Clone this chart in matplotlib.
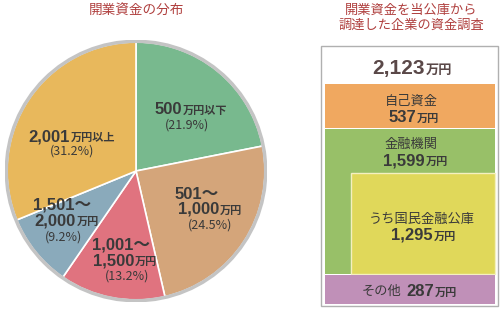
import matplotlib.pyplot as plt
from matplotlib.patches import Rectangle, Circle

plt.rcParams['font.family'] = ['Liberation Sans', 'Noto Sans CJK JP', 'DejaVu Sans']
CJK = ['Noto Sans CJK JP', 'DejaVu Sans']

# pie data
pie_titles = ['500万円以下', '501～1,000万円', '1,001～1,500万円', '1,501～2,000万円', '2,001万円以上']
pie_shares = [21.9, 24.5, 13.2, 9.2, 31.2]
pie_colors = ['#78b98e', '#d4a57a', '#e0737f', '#8aaabb', '#e8b85c']

# funding breakdown (万円)
total_fund = 2123
own_fund = 537
bank_fund = 1599
jfc_fund = 1295
other_fund = 287

txt = '#3a3a3a'
red_title = '#b0403f'

fig = plt.figure(figsize=(5, 3.1), dpi=100)

# pie axes (pixel layout: center 136,171 radius 131)
pax = fig.add_axes([(136 - 131) / 500, (310 - 171 - 131) / 310, 262 / 500, 262 / 310])
pax.pie(pie_shares, colors=pie_colors, startangle=90, counterclock=False, radius=0.985,
        wedgeprops=dict(edgecolor='white', linewidth=1.2))
pax.add_patch(Circle((0, 0), 0.99, fill=False, edgecolor='#c4c4c4', linewidth=2.5))
pax.set_xlim(-1, 1)
pax.set_ylim(-1, 1)
pax.axis('off')

# overlay axes in pixel coords
ax = fig.add_axes([0, 0, 1, 1], facecolor='none')
ax.set_xlim(0, 500)
ax.set_ylim(310, 0)
ax.axis('off')

ax.text(136, 10, '開業資金の分布', color=red_title, fontsize=9.8, ha='center', va='center', family=CJK)
ax.text(411, 10, '開業資金を当公庫から', color=red_title, fontsize=9.5, ha='center', va='center', family=CJK)
ax.text(411, 25, '調達した企業の資金調査', color=red_title, fontsize=9.5, ha='center', va='center', family=CJK)


def money(x, y, num, unit, size=12, usize=8, color=txt):
    # number right-aligned at split x, unit left-aligned after it
    ax.text(x, y, num, fontsize=size, fontweight='bold', color=color, ha='right', va='baseline')
    ax.text(x + 0.5, y, unit, fontsize=usize, fontweight='bold', color=color, ha='left', va='baseline',
            family=CJK)


def pct(x, y, v):
    ax.text(x, y, f'({v}%)', fontsize=9, color=txt, ha='center', va='center', family=CJK)


def tilde(x, y, num):
    ax.text(x, y, num, fontsize=12, fontweight='bold', color=txt, ha='left', va='baseline')


# pie labels
money(182, 114, '500', '万円以下')
pct(187, 125, pie_shares[0])
tilde(175, 199, '501～')
money(219, 214, '1,000', '万円')
pct(210, 225, pie_shares[1])
tilde(92, 250, '1,001～')
money(134, 265, '1,500', '万円')
pct(127, 276, pie_shares[2])
tilde(33, 210, '1,501～')
money(76, 225, '2,000', '万円')
pct(63, 237, pie_shares[3])
money(70, 141, '2,001', '万円以上')
pct(72, 151, pie_shares[4])

# right box
ax.add_patch(Rectangle((320.5, 45.5), 177, 260, facecolor='white', edgecolor='#b0b0b0', linewidth=1))
ax.add_patch(Rectangle((325, 84), 170, 44, facecolor='#f0a860', edgecolor='none'))
ax.add_patch(Rectangle((325, 129), 170, 145, facecolor='#98c068', edgecolor='none'))
ax.add_patch(Rectangle((351, 173), 144, 101, facecolor='#e0d85a', edgecolor='#f4f0c0', linewidth=1))
ax.add_patch(Rectangle((325, 275), 170, 29, facecolor='#c090b8', edgecolor='none'))

money(425, 74, f'{total_fund:,}', '万円', size=15, usize=9.5, color='#5a4848')
ax.text(411, 101, '自己資金', fontsize=9.5, color=txt, ha='center', va='center', family=CJK)
money(416, 122, f'{own_fund:,}', '万円')
ax.text(411, 144, '金融機関', fontsize=9.5, color=txt, ha='center', va='center', family=CJK)
money(425, 165, f'{bank_fund:,}', '万円')
ax.text(422, 219, 'うち国民金融公庫', fontsize=9.5, color=txt, ha='center', va='center', family=CJK)
money(433, 240, f'{jfc_fund:,}', '万円')
ax.text(362, 295, 'その他', fontsize=9.5, color=txt, ha='left', va='baseline', family=CJK)
money(434, 296, f'{other_fund:,}', '万円')

fig.savefig('out.png', dpi=100)
